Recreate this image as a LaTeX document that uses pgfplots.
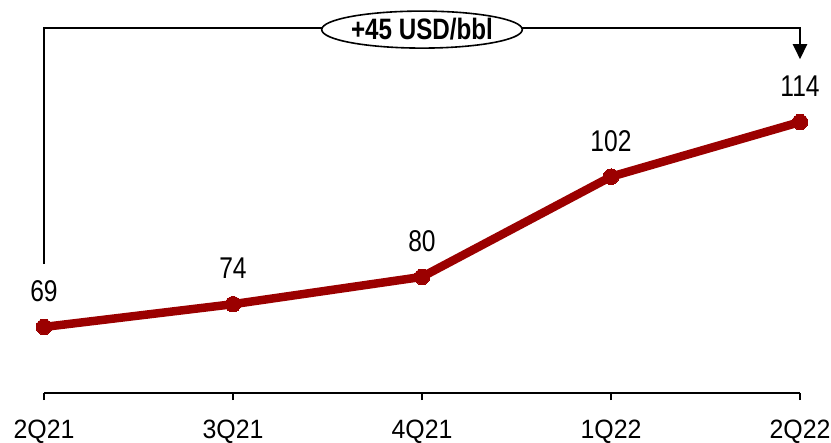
\documentclass[border=0pt]{standalone}
\usepackage{pgfplots}
\pgfplotsset{compat=1.18}
\usepackage{fontspec}
\setmainfont{Liberation Sans}
\newfontfamily\narrowfont[FakeStretch=0.82]{Liberation Sans}
\newfontfamily\tickfont[FakeStretch=0.94]{Liberation Sans}
\usetikzlibrary{shapes.geometric,arrows.meta}
\definecolor{oilred}{RGB}{155,0,0}
\begin{document}
\begin{tikzpicture}
\path[use as bounding box] (-44bp,-50bp) rectangle (787bp,393bp);
\begin{axis}[
  at={(0,0)}, anchor=south west,
  scale only axis, width=756bp, height=393bp,
  xmin=0, xmax=4, ymin=54.5, ymax=140.8,
  clip=false,
  axis x line=bottom, axis y line=none,
  axis line style={-, line width=2bp, black},
  xtick={0,1,2,3,4},
  xticklabels={2Q21,3Q21,4Q21,1Q22,2Q22},
  tick align=outside, major tick length=7bp,
  tick style={line width=2bp, black},
  ytick=\empty,
  xticklabel style={font=\tickfont\fontsize{26.5bp}{30bp}\selectfont, anchor=north, inner sep=0pt, yshift=-20bp},
  /pgf/number format/assume math mode=true,
  nodes near coords,
  every node near coord/.append style={font=\narrowfont\fontsize{30bp}{34bp}\selectfont, anchor=center, yshift=36bp, inner sep=0pt, text=black},
]
\addplot[color=oilred, line width=8.5bp, mark=*, mark size=7.8bp, mark options={solid, fill=oilred, draw=oilred, line width=0pt}]
  coordinates {(0,69) (1,74) (2,80) (3,102) (4,114)};
\draw[line width=2.5bp, black, -{Triangle[width=14bp,length=15bp]}]
  (axis cs:0,82.8) -- (axis cs:0,134.6) -- (axis cs:4,134.6) -- (axis cs:4,127.8);
\node[draw, ellipse, line width=1.6bp, fill=white, minimum width=200bp, minimum height=37bp, inner sep=0pt,
  font=\narrowfont\bfseries\fontsize{29.5bp}{34bp}\selectfont]
  at (axis cs:2,134.3) {+45 USD/bbl};
\end{axis}
\end{tikzpicture}
\end{document}
